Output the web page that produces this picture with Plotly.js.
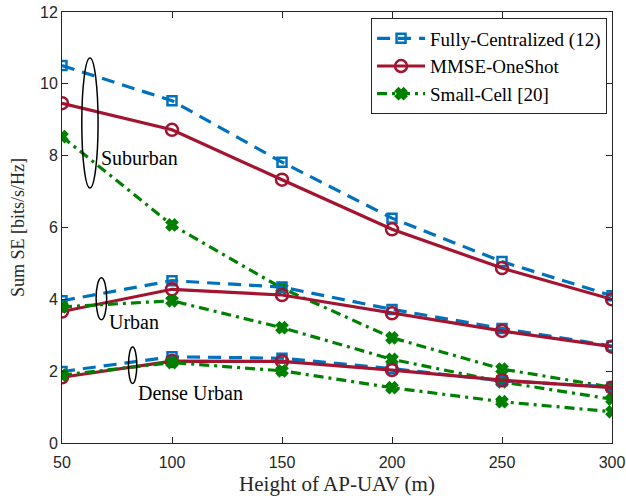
<!DOCTYPE html>
<html><head><meta charset="utf-8">
<script src="https://cdn.plot.ly/plotly-3.0.1.min.js"></script>
<style>body{margin:0;background:#fff}#c{width:626px;height:498px}</style>
</head><body><div id="c"></div>
<script>
const heights = [50, 100, 150, 200, 250, 300];
// Suburban
const fcSub   = [10.51, 9.53, 7.82, 6.26, 5.05, 4.10];
const mmseSub = [9.46, 8.72, 7.33, 5.95, 4.87, 4.00];
const scSub   = [8.53, 6.07, 4.31, 2.93, 2.06, 1.55];
// Urban
const fcUrb   = [3.96, 4.52, 4.34, 3.72, 3.19, 2.70];
const mmseUrb = [3.66, 4.28, 4.12, 3.61, 3.12, 2.68];
const scUrb   = [3.79, 3.96, 3.21, 2.33, 1.70, 1.22];
// Dense Urban
const fcDen   = [1.99, 2.40, 2.36, 2.07, 1.73, 1.56];
const mmseDen = [1.83, 2.28, 2.27, 2.03, 1.75, 1.54];
const scDen   = [1.89, 2.24, 2.01, 1.54, 1.15, 0.87];

const seriesNames = ['Fully-Centralized (12)', 'MMSE-OneShot', 'Small-Cell [20]'];
const xTicks = [50, 100, 150, 200, 250, 300];
const yTicks = [0, 2, 4, 6, 8, 10, 12];
const envLabels = ['Suburban', 'Urban', 'Dense Urban'];

const styles = [
  {color:'#0072BD', dash:'13px,8px', symbol:'square-open', size:9},
  {color:'#A2142F', dash:'solid', symbol:'circle-open', size:12},
  {color:'#008000', dash:'10px,5px,3px,5px', symbol:'x', size:9}
];
const groups = [[fcSub, mmseSub, scSub],[fcUrb, mmseUrb, scUrb],[fcDen, mmseDen, scDen]];
const traces = [];
groups.forEach((g, gi) => {
  g.forEach((ys, si) => {
    const s = styles[si];
    traces.push({
      x: heights, y: ys, type:'scatter', mode:'lines+markers',
      name: seriesNames[si], showlegend: gi === 0, legendgroup: 's'+si,
      line:{color:s.color, width:3.2, dash:s.dash},
      marker:{symbol:s.symbol, size:s.size, color:s.color, line:{color:s.color, width:2.5}}
    });
  });
});

const serif = 'Liberation Serif, Times New Roman, serif';
const layout = {
  width:626, height:498,
  margin:{l:62, r:14, t:12, b:55},
  paper_bgcolor:'#fff', plot_bgcolor:'#fff',
  font:{family:'Liberation Sans, Arial, sans-serif', size:16, color:'#262626'},
  xaxis:{range:[50,300], tickvals:xTicks, ticks:'inside', ticklen:6, tickcolor:'#262626',
    showline:true, linecolor:'#262626', linewidth:1, mirror:'ticks', showgrid:false, zeroline:false,
    ticklabelstandoff:5,
    title:{text:'Height of AP-UAV (m)', font:{family:serif, size:21, color:'#262626'}, standoff:6},
    tickfont:{size:16}},
  yaxis:{range:[0,12], tickvals:yTicks, ticks:'inside', ticklen:6, tickcolor:'#262626',
    showline:true, linecolor:'#262626', linewidth:1, mirror:'ticks', showgrid:false, zeroline:false,
    title:{text:'Sum SE [bits/s/Hz]', font:{family:serif, size:18, color:'#262626'}, standoff:10},
    tickfont:{size:16}},
  legend:{x:0.991, y:0.985, xanchor:'right', yanchor:'top', bgcolor:'#fff',
    bordercolor:'#262626', borderwidth:1, font:{family:serif, size:19, color:'#000'},
    tracegroupgap:0, itemwidth:48},
  shapes:[
    {type:'circle', xref:'x', yref:'y', x0:59.0, x1:66.4, y0:7.10, y1:10.72, line:{color:'#000', width:1.5}},
    {type:'circle', xref:'x', yref:'y', x0:65.5, x1:70.3, y0:3.43, y1:4.60, line:{color:'#000', width:1.5}},
    {type:'circle', xref:'x', yref:'y', x0:80.2, x1:84.0, y0:1.66, y1:2.67, line:{color:'#000', width:1.5}}
  ],
  annotations:[
    {x:66.8, y:7.94, xref:'x', yref:'y', text:envLabels[0], showarrow:false, xanchor:'left', font:{family:serif, size:20, color:'#000'}},
    {x:70.5, y:3.38, xref:'x', yref:'y', text:envLabels[1], showarrow:false, xanchor:'left', font:{family:serif, size:20, color:'#000'}},
    {x:83.5, y:1.38, xref:'x', yref:'y', text:envLabels[2], showarrow:false, xanchor:'left', font:{family:serif, size:20, color:'#000'}}
  ]
};
Plotly.newPlot('c', traces, layout, {staticPlot:true, displayModeBar:false});
</script></body></html>
